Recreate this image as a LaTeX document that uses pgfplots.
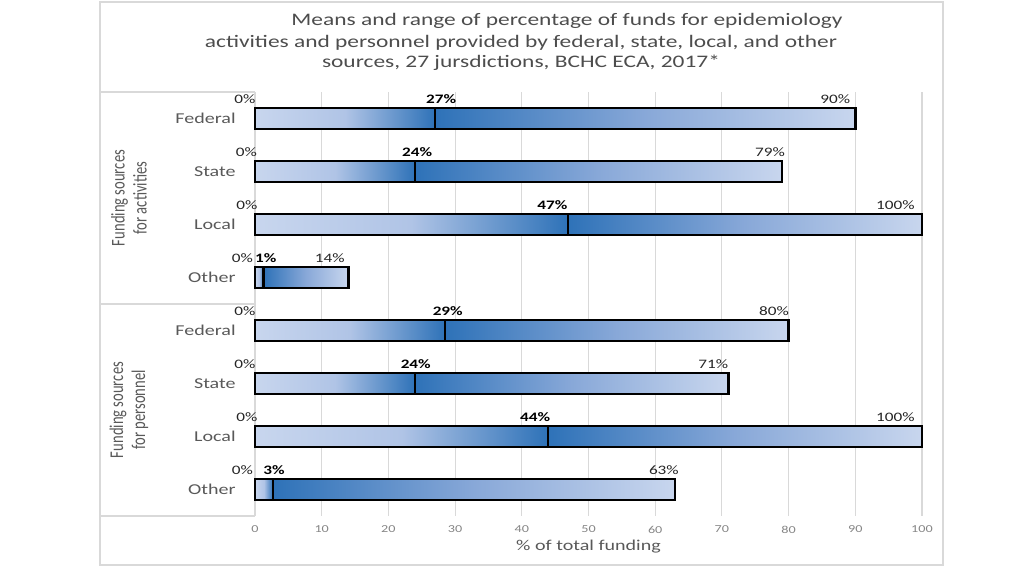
\documentclass[border=0pt]{standalone}
\usepackage{pgfplots}
\pgfplotsset{compat=1.18}
\usepackage{pgfplotstable}
\usepackage{fontspec}
\setmainfont{Carlito}[FakeStretch=1.33]
\newfontfamily\vfont{Carlito}[FakeStretch=0.75]
\definecolor{cLight}{HTML}{C8D6EE}
\definecolor{cMidL}{HTML}{B0C4E6}
\definecolor{cMidR}{HTML}{88A8D8}
\definecolor{cDark}{HTML}{2E72B8}
\definecolor{txtc}{HTML}{595959}
\definecolor{ttlc}{HTML}{4D4D4D}
\definecolor{tickc}{HTML}{858585}
\definecolor{gridc}{HTML}{D9D9D9}
\tikzset{nl/.style={font=\fontsize{9.7}{11}\selectfont, text=black!85},
         bl/.style={font=\bfseries\fontsize{9.7}{11}\selectfont, text=black}}

% shading stops: bar box maps to 25bp..75bp; dark at mean/max
\newcommand\mkshade[4]{%
\pgfdeclarehorizontalshading{#1}{100bp}{color(0bp)=(cLight); color(25bp)=(cLight); color(#2bp)=(cMidL); color(#3bp)=(cDark); color(#4bp)=(cMidR); color(75bp)=(cLight); color(100bp)=(cLight)}}
\mkshade{rowA}{32.5}{40.0}{57.5}
\mkshade{rowB}{32.6}{40.19}{57.6}
\mkshade{rowC}{36.7}{48.45}{61.7}
\mkshade{rowD}{27.3}{29.64}{52.3}
\mkshade{rowE}{33.9}{42.8}{58.9}
\mkshade{rowF}{33.45}{41.9}{58.45}
\mkshade{rowG}{35.97}{46.95}{60.97}
\mkshade{rowH}{26.07}{27.14}{51.07}

\pgfplotstableread{
row mean max
1 27 90
2 24 79
3 46.9 100
4 1.3 14
5 28.5 80
6 24 71
7 43.9 100
8 2.7 63
}\bars

\begin{document}
\begin{tikzpicture}[x=0.75pt,y=0.75pt]
\path[use as bounding box] (0,0) rectangle (1024,576);
\draw[gridc, line width=0.8pt] (100,11) rectangle (943,574);
\draw[gridc, line width=0.8pt] (100,484) -- (255,484);
\draw[gridc, line width=0.8pt] (100,272) -- (255,272);
\draw[gridc, line width=0.8pt] (100,60) -- (255,60);

\node[ttlc, font=\fontsize{13.2}{15}\selectfont] at (567,555) {Means and range of percentage of funds for epidemiology};
\node[ttlc, font=\fontsize{13.2}{15}\selectfont] at (521,533.5) {activities and personnel provided by federal, state, local, and other};
\node[ttlc, font=\fontsize{13.2}{15}\selectfont] at (521,513) {sources, 27 jursdictions, BCHC ECA, 2017*};

\node[txtc, rotate=90, align=center, font=\vfont\fontsize{14.6}{16.5}\selectfont] at (129,378) {Funding sources\\for activities};
\node[txtc, rotate=90, align=center, font=\vfont\fontsize{14.6}{16.5}\selectfont] at (129,166) {Funding sources\\for personnel};

\begin{axis}[
  at={(191.25pt,45pt)}, anchor=south west,
  scale only axis, width=500.25pt, height=318pt,
  xmin=0, xmax=100, ymin=0.5, ymax=8.5, y dir=reverse,
  xbar,
  every axis plot/.append style={bar shift=0pt, bar width=15.75pt, draw=black, line width=1.8pt},
  ytick={1,...,8},
  yticklabels={Federal,State,Local,Other,Federal,State,Local,Other},
  xtick={0,10,...,100},
  major tick length=0pt,
  xmajorgrids, grid style={gridc, line width=0.8pt},
  axis lines*=left,
  x axis line style={draw=none},
  y axis line style={gridc, line width=0.8pt},
  /pgf/number format/assume math mode=true,
  yticklabel style={text=txtc, font=\fontsize{11.3}{13}\selectfont, xshift=-11pt},
  xticklabel style={text=tickc, font=\fontsize{8}{10}\selectfont, yshift=-4pt},
  xlabel={\% of total funding},
  xlabel style={text=txtc, font=\fontsize{11.3}{13}\selectfont, at={(axis description cs:0.5,0)}, anchor=center, yshift=-23.25pt},
  clip=false,
]
% full range bars (0 to maximum), one per row
\addplot[shading=rowA] coordinates {(90,1)};
\addplot[shading=rowB] coordinates {(79,2)};
\addplot[shading=rowC] coordinates {(100,3)};
\addplot[shading=rowD] coordinates {(14,4)};
\addplot[shading=rowE] coordinates {(80,5)};
\addplot[shading=rowF] coordinates {(71,6)};
\addplot[shading=rowG] coordinates {(100,7)};
\addplot[shading=rowH] coordinates {(63,8)};
% mean bars (outline only, gives the line at the mean)
\addplot[fill=none] table[x=mean, y=row] {\bars};

\node[nl] at (axis cs:-1.5,0.64) {0\%};
\node[nl] at (axis cs:-1.3,1.64) {0\%};
\node[nl] at (axis cs:-1.2,2.64) {0\%};
\node[nl] at (axis cs:-1.9,3.64) {0\%};
\node[nl] at (axis cs:-1.5,4.64) {0\%};
\node[nl] at (axis cs:-1.5,5.64) {0\%};
\node[nl] at (axis cs:-1.2,6.64) {0\%};
\node[nl] at (axis cs:-1.9,7.64) {0\%};
\node[nl] at (axis cs:87,0.64) {90\%};
\node[nl] at (axis cs:77.2,1.64) {79\%};
\node[nl] at (axis cs:96,2.64) {100\%};
\node[nl] at (axis cs:11.2,3.64) {14\%};
\node[nl] at (axis cs:77.8,4.64) {80\%};
\node[nl] at (axis cs:68.7,5.64) {71\%};
\node[nl] at (axis cs:96,6.64) {100\%};
\node[nl] at (axis cs:61.3,7.64) {63\%};
\node[bl] at (axis cs:27.9,0.64) {27\%};
\node[bl] at (axis cs:24.3,1.64) {24\%};
\node[bl] at (axis cs:44.6,2.64) {47\%};
\node[bl] at (axis cs:1.6,3.64) {1\%};
\node[bl] at (axis cs:28.9,4.64) {29\%};
\node[bl] at (axis cs:24.1,5.64) {24\%};
\node[bl] at (axis cs:42,6.64) {44\%};
\node[bl] at (axis cs:2.85,7.64) {3\%};
\end{axis}
\end{tikzpicture}
\end{document}
